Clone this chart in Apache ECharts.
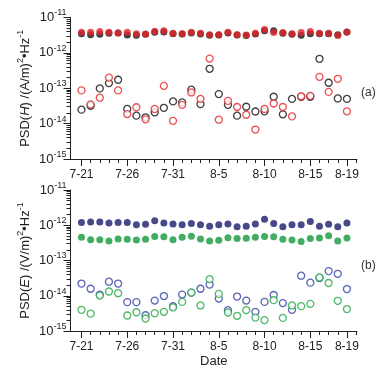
<!DOCTYPE html>
<html><head><meta charset="utf-8">
<script src="https://cdn.jsdelivr.net/npm/echarts@6/dist/echarts.min.js"></script>
<style>html,body{margin:0;padding:0;background:#fff}#c{width:388px;height:372px}</style>
</head><body><div id="c"></div>
<script>
const dates = ['7-21','7-22','7-23','7-24','7-25','7-26','7-27','7-28','7-29','7-30','7-31',
  '8-1','8-2','8-3','8-4','8-5','8-6','8-7','8-8','8-9','8-10','8-11','8-12','8-13','8-14','8-15','8-16','8-17','8-18','8-19'];
const labelDates = ['7-21','7-26','7-31','8-5','8-10','8-15','8-19'];
const yExponents = [-15,-14,-13,-12,-11];

const hBlackFilled = [3.5e-12,3.28e-12,3.35e-12,3.58e-12,3.66e-12,3.2e-12,3.15e-12,3.35e-12,3.8e-12,3.9e-12,3.5e-12,3.43e-12,3.66e-12,3.43e-12,3.15e-12,3.2e-12,3.66e-12,3.2e-12,3.1e-12,3.43e-12,4.25e-12,4.2e-12,3.58e-12,3.35e-12,3.15e-12,3.5e-12,3.5e-12,3.5e-12,3.28e-12,3.9e-12];
const hRedFilled = [3.82e-12,3.82e-12,4.0e-12,3.82e-12,3.66e-12,3.82e-12,3.5e-12,3.43e-12,4.1e-12,4.25e-12,3.58e-12,3.5e-12,3.82e-12,3.58e-12,3.28e-12,3.28e-12,3.82e-12,3.28e-12,3.2e-12,3.58e-12,4.6e-12,3.74e-12,3.74e-12,3.5e-12,3.74e-12,4.0e-12,3.58e-12,3.58e-12,3.1e-12,3.82e-12];
const hBlackOpen = [2.48e-14,3.2e-14,9.9e-14,1.4e-13,1.74e-13,2.6e-14,1.68e-14,1.51e-14,2.1e-14,2.8e-14,4.25e-14,4.0e-14,9.1e-14,3.55e-14,3.55e-13,6.85e-14,3.4e-14,1.68e-14,3.0e-14,2.2e-14,2.23e-14,5.75e-14,1.83e-14,5.0e-14,5.75e-14,5.75e-14,6.8e-13,1.43e-13,5.15e-14,5.0e-14];
const hRedOpen = [8.7e-14,3.5e-14,5.4e-14,2.0e-13,8.7e-14,1.86e-14,2.9e-14,1.32e-14,2.6e-14,1.17e-13,1.2e-14,3.4e-14,7.6e-14,5.0e-14,6.9e-13,1.29e-14,4.4e-14,2.95e-14,1.78e-14,6.8e-15,2.6e-14,3.7e-14,2.95e-14,1.6e-14,5.9e-14,6.1e-14,2.1e-13,7.9e-14,1.85e-13,2.23e-14];

const eNavyFilled = [1.19e-12,1.24e-12,1.24e-12,1.16e-12,1.2e-12,1.19e-12,1.04e-12,1.06e-12,1.35e-12,1.16e-12,1.09e-12,1.04e-12,1.13e-12,1.04e-12,0.93e-12,1.04e-12,1.09e-12,0.91e-12,0.93e-12,1.09e-12,1.48e-12,1.13e-12,0.91e-12,1.04e-12,1.04e-12,1.27e-12,0.93e-12,1.06e-12,0.91e-12,1.16e-12];
const eGreenFilled = [4.57e-13,3.9e-13,3.9e-13,3.6e-13,4.1e-13,4.0e-13,3.84e-13,4.0e-13,4.8e-13,4.7e-13,3.9e-13,4.57e-13,4.9e-13,4.1e-13,3.6e-13,3.75e-13,4.45e-13,4.2e-13,4.3e-13,4.57e-13,4.8e-13,4.7e-13,4.0e-13,3.84e-13,3.47e-13,4.2e-13,4.35e-13,5.0e-13,3.6e-13,4.35e-13];
const eNavyOpen = [2.22e-14,1.58e-14,1.08e-14,2.5e-14,2.22e-14,6.6e-15,6.6e-15,2.8e-15,7.3e-15,9.8e-15,5.07e-15,1.08e-14,1.23e-14,1.58e-14,2.08e-14,8.3e-15,3.9e-15,9.5e-15,7.3e-15,3.5e-15,6.7e-15,1.05e-14,6.2e-15,3.98e-15,3.7e-14,2.35e-14,3.2e-14,5.0e-14,4.2e-14,1.55e-14];
const eGreenOpen = [4.0e-15,3.1e-15,1.01e-14,1.32e-14,1.18e-14,2.75e-15,3.4e-15,2.26e-15,3.2e-15,3.5e-15,4.65e-15,6.7e-15,1.23e-14,5.3e-15,2.95e-14,1.13e-14,3.35e-15,2.7e-15,3.9e-15,2.4e-15,2.04e-15,7.5e-15,2.35e-15,5.3e-15,5.07e-15,5.9e-15,3.3e-14,2.3e-14,7.2e-15,4.2e-15];

const FONT = 'Liberation Sans, Arial, sans-serif';
const TXT = '#222';
const labelIdx = labelDates.map(d => dates.indexOf(d));
const dayIdx = []; for (let i = 0; i <= dates.length; i++) dayIdx.push(i);
const majorY = yExponents.map(e => Math.pow(10, e));
const minorY = [];
yExponents.slice(0, -1).forEach(e => { for (let k = 2; k <= 9; k++) minorY.push(k * Math.pow(10, e)); });

const XMIN = -1.2, XMAX = 30.1;
function xAxes(grid, withName) {
  return [
    { gridIndex: grid, type: 'value', position: 'bottom', min: XMIN, max: XMAX, splitLine: {show: false},
      axisLine: {show: true, onZero: false, lineStyle: {color: '#222', width: 1}},
      axisTick: {show: true, customValues: dayIdx, length: 4, lineStyle: {color: '#222'}},
      axisLabel: {show: false} },
    { gridIndex: grid, type: 'value', position: 'bottom', min: XMIN, max: XMAX, splitLine: {show: false},
      axisLine: {show: false, onZero: false},
      axisTick: {show: true, customValues: labelIdx, length: 7, lineStyle: {color: '#222'}},
      axisLabel: {show: true, customValues: labelIdx, margin: 10, color: TXT, fontSize: 12, fontFamily: FONT,
        formatter: v => dates[Math.round(v)] },
      name: withName ? 'Date' : '', nameLocation: 'middle', nameGap: 24, nameMoveOverlap: false,
      nameTextStyle: {color: TXT, fontSize: 13, fontFamily: FONT} }
  ];
}
function yAxes(grid, nameRich) {
  return [
    { gridIndex: grid, type: 'log', position: 'left', logBase: 10, min: 1e-15, max: 1e-11, splitLine: {show: false},
      axisLine: {show: true, onZero: false, lineStyle: {color: '#222', width: 1}},
      axisTick: {show: true, customValues: majorY, length: 7, lineStyle: {color: '#222'}},
      axisLabel: {show: true, customValues: majorY, margin: 4, color: TXT, fontFamily: FONT,
        formatter: v => '{b|10}{s|' + Math.round(Math.log10(v)) + '}',
        rich: { b: {fontSize: 13, fontFamily: FONT, color: TXT},
                s: {fontSize: 9, fontFamily: FONT, color: TXT, padding: [0, 0, 9, 0]} } },
      name: nameRich, nameLocation: 'middle', nameRotate: 90, nameGap: 36, nameMoveOverlap: false,
      nameTextStyle: { color: TXT, fontFamily: FONT, fontSize: 13,
        rich: { n: {fontSize: 13, fontFamily: FONT, color: TXT},
                i: {fontSize: 13, fontFamily: FONT, color: TXT, fontStyle: 'italic'},
                s: {fontSize: 9, fontFamily: FONT, color: TXT, padding: [0, 0, 9, 0]} } } },
    { gridIndex: grid, type: 'log', position: 'left', logBase: 10, min: 1e-15, max: 1e-11, splitLine: {show: false},
      axisLine: {show: false, onZero: false},
      axisTick: {show: true, customValues: minorY, length: 4, lineStyle: {color: '#222'}},
      axisLabel: {show: false} }
  ];
}

function pts(arr) { return arr.map((v, i) => [i, v]); }
function filled(name, arr, color, xi, yi) {
  return { name, type: 'scatter', xAxisIndex: xi, yAxisIndex: yi, data: pts(arr),
    symbol: 'circle', symbolSize: 7, itemStyle: {color}, silent: true };
}
function open(name, arr, color, xi, yi) {
  return { name, type: 'scatter', xAxisIndex: xi, yAxisIndex: yi, data: pts(arr),
    symbol: 'circle', symbolSize: 7, itemStyle: {color: '#fff', borderColor: color, borderWidth: 1.3}, silent: true };
}

const chart = echarts.init(document.getElementById('c'), null, {renderer: 'canvas'});
chart.setOption({
  animation: false,
  backgroundColor: '#fff',
  grid: [
    {left: 70.5, top: 17.5, width: 286.5, height: 141.5},
    {left: 70.5, top: 190, width: 286.5, height: 141}
  ],
  xAxis: [...xAxes(0, false), ...xAxes(1, true)],
  yAxis: [
    ...yAxes(0, '{n|PSD(}{i|H}{n|) /(A/m)}{s|2}{n|•Hz}{s|-1}'),
    ...yAxes(1, '{n|PSD(}{i|E}{n|) /(V/m)}{s|2}{n|•Hz}{s|-1}')
  ],
  series: [
    filled('H black filled', hBlackFilled, '#111111', 0, 0),
    filled('H red filled', hRedFilled, '#e3262b', 0, 0),
    open('H black open', hBlackOpen, '#111111', 0, 0),
    open('H red open', hRedOpen, '#e3262b', 0, 0),
    filled('E navy filled', eNavyFilled, '#1a1a6e', 2, 2),
    filled('E green filled', eGreenFilled, '#13983a', 2, 2),
    open('E navy open', eNavyOpen, '#2f3fa6', 2, 2),
    open('E green open', eGreenOpen, '#22a844', 2, 2)
  ],
  graphic: [
    {type: 'text', left: 361, top: 87, style: {text: '(a)', fontSize: 12, fontFamily: FONT, fill: '#333'}},
    {type: 'text', left: 361, top: 260, style: {text: '(b)', fontSize: 12, fontFamily: FONT, fill: '#333'}}
  ]
});
</script></body></html>
